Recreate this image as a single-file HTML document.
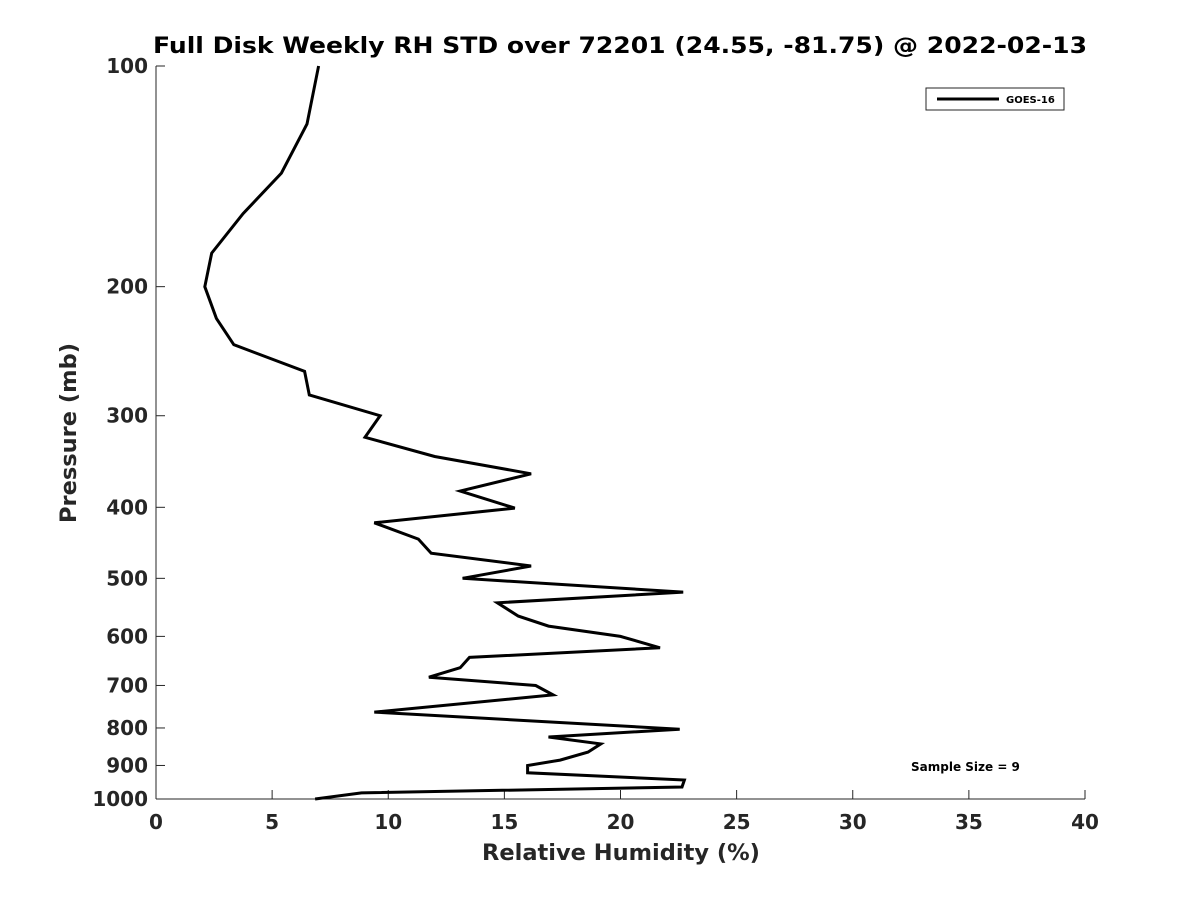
<!DOCTYPE html>
<html><head><meta charset="utf-8"><style>
html,body{margin:0;padding:0;background:#fff;}
svg{display:block;font-family:"DejaVu Sans","Liberation Sans",sans-serif;}
</style></head><body>
<svg id="chart" width="1200" height="900" viewBox="0 0 1200 900"></svg>
<script>
const rhValues=[7.0,6.5,5.4,3.75,2.4,2.1,2.6,3.35,6.4,6.6,9.65,9.0,12.0,16.15,13.1,15.45,9.4,11.3,11.85,16.15,13.2,22.7,14.7,15.6,16.9,20.0,21.7,13.5,13.1,11.75,16.35,17.1,9.4,22.55,16.9,19.15,18.6,17.4,16.0,16.0,22.75,22.65,8.85,6.85];
const pressureLevels=[100,120,140,159,180,200,221,240,261,281,300,321,341,360,380,401,420,442,462,481,500,522,540,563,581,600,622,641,662,682,700,721,761,803,823,841,863,885,900,921,942,963,981,1000];
const xTicks=[0,5,10,15,20,25,30,35,40];
const yTicks=[100,200,300,400,500,600,700,800,900,1000];
const X0=156,X1=1085,Y0=66,Y1=799;
const xs=v=>X0+(v-0)/40*(X1-X0);
const ys=p=>Y0+(Math.log10(p)-2)*(Y1-Y0);
const svg=document.getElementById('chart');
const NS='http://www.w3.org/2000/svg';
function mk(t,a,txt){const e=document.createElementNS(NS,t);for(const k in a)e.setAttribute(k,a[k]);if(txt!==undefined)e.textContent=txt;svg.appendChild(e);return e;}
let e;
e=mk('text',{x:620,y:53,'text-anchor':'middle','font-size':22,'font-weight':'bold',fill:'#000',textLength:934,lengthAdjust:'spacingAndGlyphs'},'Full Disk Weekly RH STD over 72201 (24.55, -81.75) @ 2022-02-13');


e=mk('line',{x1:X0,y1:Y0,x2:X0,y2:Y1,stroke:'#262626','stroke-width':1});


e=mk('line',{x1:X0,y1:Y1,x2:X1,y2:Y1,stroke:'#262626','stroke-width':1});


xTicks.forEach(v=>{
  e=mk('line',{x1:xs(v),y1:Y1,x2:xs(v),y2:Y1-9,stroke:'#262626'});
  
  
  e=mk('text',{x:xs(v),y:829,'text-anchor':'middle','font-size':20,'font-weight':'bold',fill:'#262626'},String(v));
  
  
});
yTicks.forEach(p=>{
  e=mk('line',{x1:X0,y1:ys(p),x2:X0+9,y2:ys(p),stroke:'#262626'});
  
  
  e=mk('text',{x:148,y:ys(p)+7,'text-anchor':'end','font-size':20,'font-weight':'bold',fill:'#262626'},String(p));
  
  
});
e=mk('text',{x:621,y:860,'text-anchor':'middle','font-size':22.5,'font-weight':'bold',fill:'#262626'},'Relative Humidity (%)');


e=mk('text',{x:0,y:0,transform:'translate(76,433) rotate(-90)','text-anchor':'middle','font-size':22.5,'font-weight':'bold',fill:'#262626'},'Pressure (mb)');


const pts=rhValues.map((v,i)=>xs(v).toFixed(1)+','+ys(pressureLevels[i]).toFixed(1)).join(' ');
e=mk('polyline',{points:pts,fill:'none',stroke:'#000','stroke-width':3,'stroke-linejoin':'miter'});


e=mk('rect',{x:926,y:88,width:138,height:22,fill:'#fff',stroke:'#262626','stroke-width':1});


e=mk('line',{x1:937,y1:99,x2:999,y2:99,stroke:'#000','stroke-width':3});


e=mk('text',{x:1006,y:103,'font-size':10,'font-weight':'bold',fill:'#000'},'GOES-16');


e=mk('text',{x:911,y:771,'font-size':12,'font-weight':'bold',fill:'#000'},'Sample Size = 9');


</script>
</body></html>
